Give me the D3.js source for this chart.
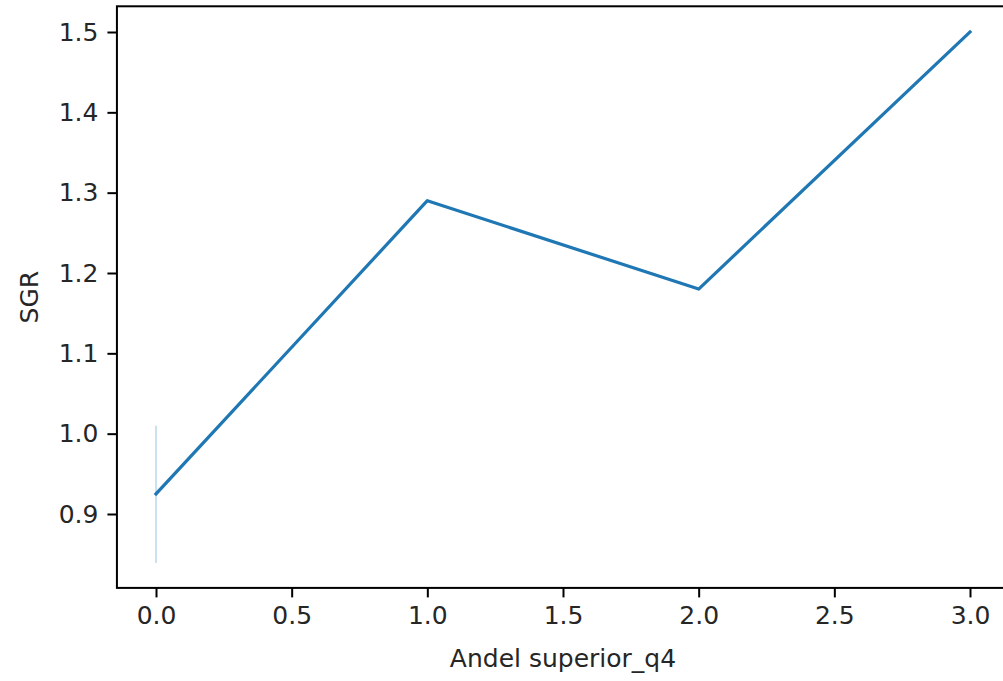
<!DOCTYPE html>
<html>
<head>
<meta charset="utf-8">
<script src="https://cdn.jsdelivr.net/npm/d3@7"></script>
<style>
  html, body { margin: 0; padding: 0; background: #fff; }
  svg { display: block; font-family: "DejaVu Sans", sans-serif; }
</style>
</head>
<body>
<svg id="chart" width="1003" height="681"></svg>
<script>
// Data
const xValues = [0, 1, 2, 3];
const sgrMean = [0.925, 1.29, 1.18, 1.5];
const ciLow   = [0.839, 1.29, 1.18, 1.5];
const ciHigh  = [1.010, 1.29, 1.18, 1.5];
const xTicks = [0.0, 0.5, 1.0, 1.5, 2.0, 2.5, 3.0];
const yTicks = [0.9, 1.0, 1.1, 1.2, 1.3, 1.4, 1.5];
const xLabel = "Andel superior_q4";
const yLabel = "SGR";

(function () {
const svg = d3.select("#chart");
const x = d3.scaleLinear().domain([0, 3]).range([156, 970]);
const y = d3.scaleLinear().domain([0.9, 1.5]).range([514, 32]);

const xMin = -0.144, xMax = 3.144;
const yMin = 0.808, yMax = 1.532;
const pLeft = x(xMin), pRight = x(xMax), pTop = y(yMax), pBottom = y(yMin);

const fontSize = 25;
const col = "#1f77b4";

// CI band (zero-width, drawn as edge)
const band = xValues.map((d, i) => ({x: d, lo: ciLow[i], hi: ciHigh[i]})).filter(d => d.hi > d.lo);
svg.selectAll("line.ci").data(band).enter().append("line")
  .attr("x1", d => x(d.x)).attr("x2", d => x(d.x))
  .attr("y1", d => y(d.lo)).attr("y2", d => y(d.hi))
  .attr("stroke", col).attr("stroke-opacity", 0.3).attr("stroke-width", 1.5);

// Line
const pts = xValues.map((d, i) => [d, sgrMean[i]]);
svg.append("path").datum(pts)
  .attr("d", d3.line().x(d => x(d[0])).y(d => y(d[1])))
  .attr("fill", "none").attr("stroke", col).attr("stroke-width", 3.2)
  .attr("stroke-linejoin", "round").attr("stroke-linecap", "square");

// Axes
const xAxis = d3.axisBottom(x).tickValues(xTicks).tickFormat(d3.format(".1f")).tickSize(9.5).tickPadding(9);
const gx = svg.append("g").attr("transform", `translate(0,${pBottom})`).call(xAxis);
const yAxis = d3.axisLeft(y).tickValues(yTicks).tickFormat(d3.format(".1f")).tickSize(9.5).tickPadding(9);
const gy = svg.append("g").attr("transform", `translate(${pLeft},0)`).call(yAxis);
[gx, gy].forEach(g => {
  g.select(".domain").remove();
  g.selectAll(".tick line").attr("stroke", "#000").attr("stroke-width", 2);
  g.selectAll(".tick text").attr("fill", "#262626").attr("font-size", fontSize)
    .attr("font-family", "DejaVu Sans");
});

// Spines
svg.append("rect").attr("x", pLeft).attr("y", pTop)
  .attr("width", pRight - pLeft).attr("height", pBottom - pTop)
  .attr("fill", "none").attr("stroke", "#000").attr("stroke-width", 2);

// Labels
svg.append("text").attr("x", (pLeft + pRight) / 2).attr("y", 667)
  .attr("text-anchor", "middle").attr("font-size", fontSize).attr("fill", "#262626")
  .text(xLabel);
svg.append("text").attr("transform", `translate(38,${(pTop + pBottom) / 2}) rotate(-90)`)
  .attr("text-anchor", "middle").attr("font-size", fontSize).attr("fill", "#262626")
  .text(yLabel);
})();
</script>
</body>
</html>
